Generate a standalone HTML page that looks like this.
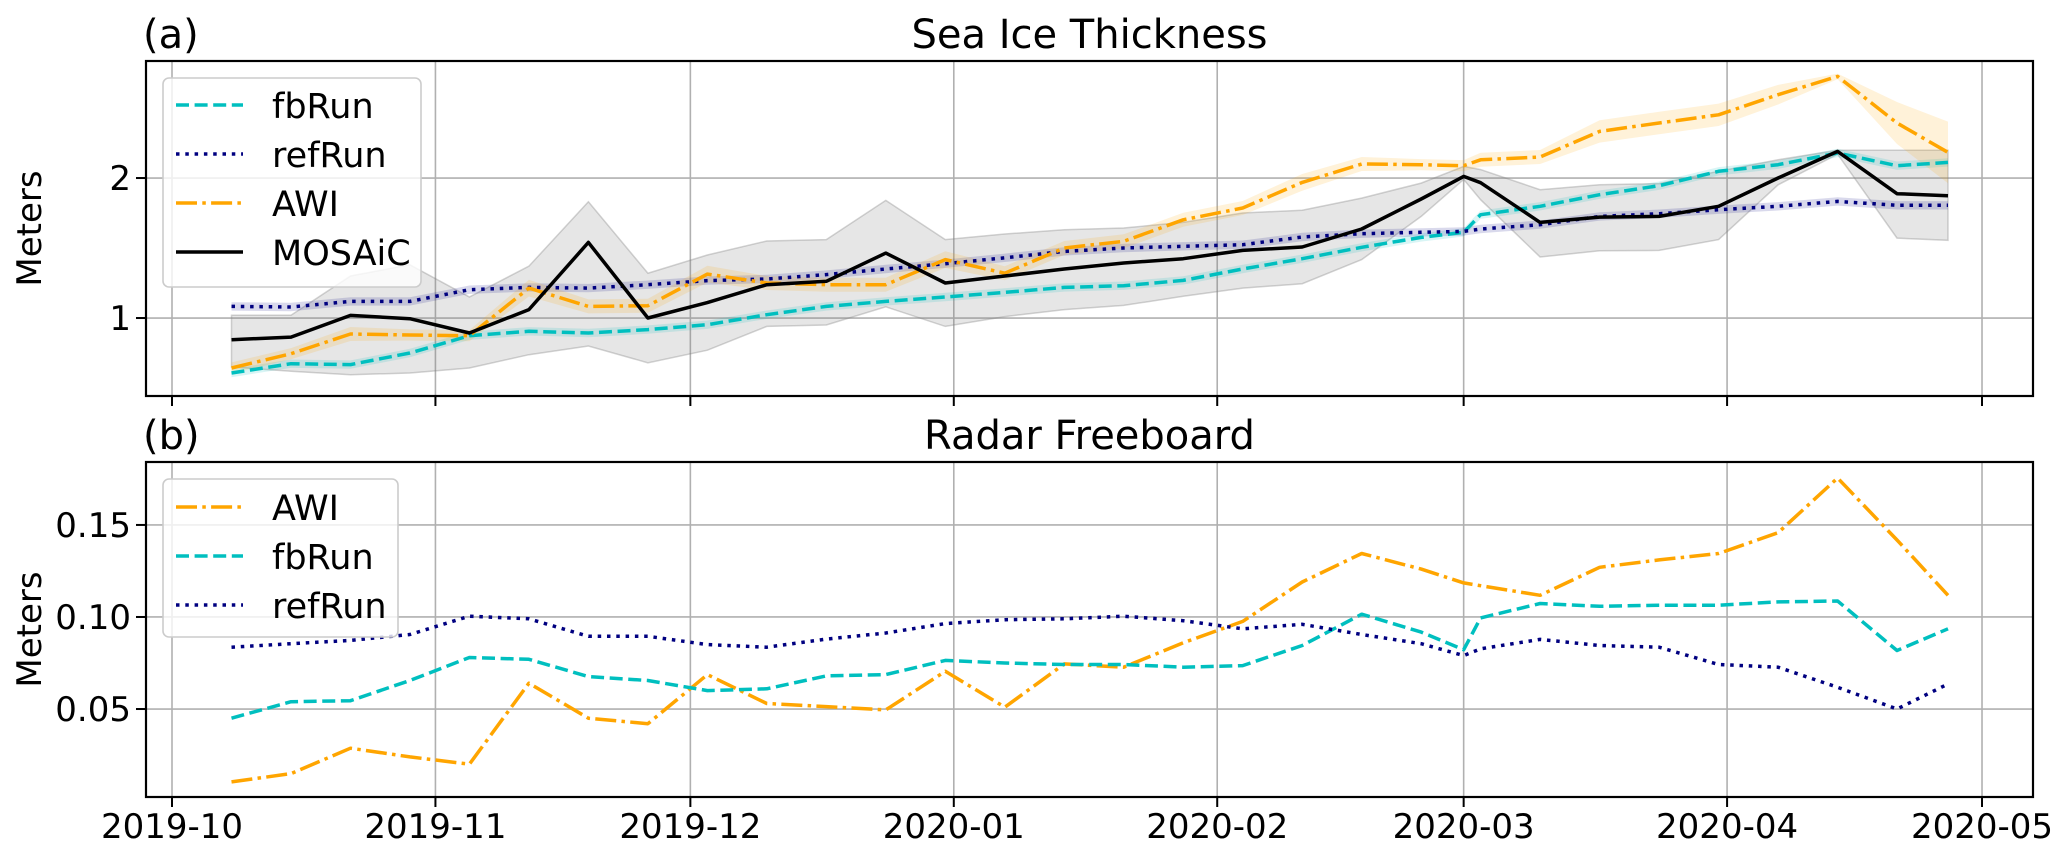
<!DOCTYPE html>
<html><head><meta charset="utf-8"><style>
html,body{margin:0;padding:0;background:#fff;}
svg{display:block;font-family:"DejaVu Sans","Liberation Sans",sans-serif;}
</style></head><body>
<svg id="fig" width="2067" height="856" viewBox="0 0 2067 856" xmlns="http://www.w3.org/2000/svg"></svg>
<script>
// ---- data ----
const days = [7,14,21,28,35,42,49,56,63,70,77,84,91,98,105,112,119,126,133,140,147,152,154,161,168,175,182,189,196,203,209];
const monthDays = [0,31,61,92,123,152,183,213];
const monthLabels = ["2019-10","2019-11","2019-12","2020-01","2020-02","2020-03","2020-04","2020-05"];
// Panel (a) sea ice thickness
const thkFb = [0.607,0.674,0.667,0.75,0.874,0.905,0.893,0.917,0.952,1.024,1.083,1.119,1.15,1.183,1.219,1.231,1.269,1.35,1.424,1.505,1.576,1.612,1.738,1.798,1.881,1.945,2.048,2.095,2.179,2.088,2.112];
const thkRef = [1.083,1.079,1.119,1.119,1.202,1.219,1.214,1.238,1.267,1.279,1.31,1.35,1.388,1.43,1.476,1.5,1.512,1.524,1.579,1.602,1.612,1.619,1.636,1.667,1.726,1.745,1.774,1.798,1.833,1.805,1.805];
const thkAwi = [0.643,0.745,0.886,0.879,0.874,1.214,1.083,1.088,1.314,1.25,1.238,1.238,1.417,1.32,1.5,1.548,1.702,1.786,1.969,2.10,2.095,2.088,2.13,2.15,2.333,2.393,2.452,2.595,2.726,2.393,2.183];
const thkAwiSpread = [0.04,0.04,0.05,0.04,0.04,0.06,0.05,0.05,0.06,0.05,0.05,0.05,0.06,0.05,0.05,0.05,0.05,0.05,0.06,0.05,0.04,0.04,0.05,0.05,0.08,0.08,0.08,0.07,0.02,0.15,0.22];
const thkMos = [0.845,0.864,1.019,0.995,0.893,1.06,1.54,1.0,1.11,1.238,1.262,1.464,1.25,1.30,1.35,1.393,1.424,1.483,1.507,1.636,1.85,2.012,1.967,1.683,1.721,1.726,1.798,2.0,2.19,1.888,1.874];
const thkMosUp = [1.02,1.02,1.30,1.38,1.15,1.37,1.83,1.32,1.45,1.55,1.56,1.84,1.56,1.60,1.63,1.643,1.683,1.75,1.77,1.857,1.964,2.083,2.06,1.917,1.952,1.96,2.048,2.13,2.198,2.198,2.198];
const thkMosLo = [0.65,0.62,0.595,0.607,0.643,0.738,0.80,0.68,0.77,0.94,0.95,1.08,0.94,1.01,1.06,1.09,1.155,1.214,1.245,1.417,1.726,1.99,1.845,1.436,1.48,1.483,1.56,1.952,2.17,1.571,1.555];
const thkModelSpread = [0.03,0.03,0.03,0.03,0.03,0.03,0.03,0.03,0.03,0.03,0.03,0.03,0.03,0.03,0.03,0.03,0.03,0.03,0.03,0.03,0.03,0.03,0.03,0.03,0.03,0.03,0.03,0.03,0.03,0.03,0.03];
const thkTicks = [1,2];
// Panel (b) radar freeboard
const fbAwi = [0.0104,0.0149,0.0287,0.024,0.020,0.064,0.045,0.042,0.0687,0.053,0.0513,0.0495,0.0705,0.051,0.0745,0.0727,0.086,0.0976,0.119,0.1345,0.126,0.1185,0.117,0.1118,0.127,0.131,0.1345,0.1458,0.1755,0.1418,0.1118];
const fbFb = [0.045,0.054,0.0545,0.0655,0.078,0.077,0.0676,0.0655,0.060,0.061,0.068,0.0687,0.0764,0.075,0.0742,0.0742,0.0727,0.0736,0.0845,0.1015,0.0918,0.0822,0.0995,0.1073,0.1058,0.1064,0.1064,0.1082,0.1087,0.0818,0.0936];
const fbRef = [0.0836,0.0855,0.0873,0.0905,0.1004,0.099,0.0895,0.0895,0.085,0.0836,0.088,0.0913,0.0964,0.0985,0.099,0.1004,0.098,0.0936,0.096,0.0905,0.0855,0.079,0.0827,0.0878,0.0845,0.0836,0.0742,0.0727,0.0618,0.050,0.0636];
const fbTicks = [0.05,0.10,0.15];
const fbTickLabels = ["0.05","0.10","0.15"];

// ---- layout ----
const NS="http://www.w3.org/2000/svg";
const svg=document.getElementById('fig');
const L=146,R=2033;
const dayMin=-3.06, dayMax=219.0;
const xS=d=>L+(d-dayMin)/(dayMax-dayMin)*(R-L);
function mk(tag,attrs,parent){const e=document.createElementNS(NS,tag);for(const k in attrs)e.setAttribute(k,attrs[k]);(parent||svg).appendChild(e);return e;}
function path(xs,ys){return xs.map((x,i)=>(i?'L':'M')+x.toFixed(1)+' '+ys[i].toFixed(1)).join(' ');}
function band(g,yS,lo,hi,fill,op,stroke){
  const xs=days.map(xS);
  const d=path(xs,hi.map(yS))+' '+xs.slice().reverse().map((x,i)=>'L'+x.toFixed(1)+' '+yS(lo[lo.length-1-i]).toFixed(1)).join(' ')+' Z';
  return mk('path',{d:d,fill:fill,'fill-opacity':op,stroke:stroke||'none','stroke-opacity':0.35,'stroke-width':1.5},g);
}
function line(g,yS,vals,color,dash){
  return mk('path',{d:path(days.map(xS),vals.map(yS)),fill:'none',stroke:color,'stroke-width':3.5,'stroke-dasharray':dash||'none','stroke-linejoin':'round'},g);
}
const DASH='13,5.6', DOT='3.5,5.8', DASHDOT='21,5.3,3.5,5.3';

function axes(name,T,B,yS,ticks){
  const g=mk('g',{});
  
  
  monthDays.forEach((d,i)=>{const gl=mk('line',{x1:xS(d),x2:xS(d),y1:T,y2:B,stroke:'#b0b0b0','stroke-width':1.6},g);
    });
  ticks.forEach(v=>{const gl=mk('line',{x1:L,x2:R,y1:yS(v),y2:yS(v),stroke:'#b0b0b0','stroke-width':1.6},g);
    });
  return g;
}
function frame(name,T,B,yS,ticks,labels,showX,title,tag,ylab){
  const g=mk('g',{});
  
  
  mk('rect',{x:L,y:T,width:R-L,height:B-T,fill:'none',stroke:'#000','stroke-width':2.2},g);
  monthDays.forEach((d,i)=>{
    mk('line',{x1:xS(d),x2:xS(d),y1:B,y2:B+10,stroke:'#000','stroke-width':2},g);
    if(showX){const t=mk('text',{x:xS(d),y:838,'text-anchor':'middle','font-size':34,fill:'#000'},g);t.textContent=monthLabels[i];
      }
  });
  ticks.forEach((v,i)=>{
    mk('line',{x1:L-10,x2:L,y1:yS(v),y2:yS(v),stroke:'#000','stroke-width':2},g);
    const t=mk('text',{x:L-15,y:yS(v)+12,'text-anchor':'end','font-size':34,fill:'#000'},g);t.textContent=labels[i];
    
  });
  const tt=mk('text',{x:(L+R)/2,y:T-13,'text-anchor':'middle','font-size':40,fill:'#000'},g);tt.textContent=title;
  
  const tg=mk('text',{x:143,y:T-13,'font-size':40,fill:'#000'},g);tg.textContent=tag;
  
  const cy=(T+B)/2;
  const yl=mk('text',{x:29,y:cy,'text-anchor':'middle','font-size':34,fill:'#000',transform:'rotate(-90 29 '+cy+') translate(0 12)'},g);yl.textContent=ylab;
  
}
function legend(x,y,w,h,entries,y0){
  const g=mk('g',{});
  
  
  mk('rect',{x:x,y:y,width:w,height:h,rx:6,fill:'#fff','fill-opacity':0.8,stroke:'#cccccc','stroke-width':1.6},g);
  entries.forEach((e,i)=>{
    const yy=y0+i*49;
    const eg=mk('g',{},g);
    
    
    mk('line',{x1:176,x2:243,y1:yy,y2:yy,stroke:e[1],'stroke-width':3.5,'stroke-dasharray':e[2]||'none'},eg);
    const t=mk('text',{x:272,y:yy+13,'font-size':35,fill:'#000'},eg);t.textContent=e[0];
  });
}

// Panel (a)
const aT=61,aB=396;
const yA=v=>aT+(2.836-v)/(2.836-0.443)*(aB-aT);
const ga=axes('thickness-panel',aT,aB,yA,thkTicks);
const up=(a,s)=>a.map((v,i)=>v+s[i]), dn=(a,s)=>a.map((v,i)=>v-s[i]);
let b;
b=band(ga,yA,thkMosLo,thkMosUp,'#808080',0.2,'#808080');
b=band(ga,yA,dn(thkFb,thkModelSpread),up(thkFb,thkModelSpread),'#00bfbf',0.15);
b=band(ga,yA,dn(thkRef,thkModelSpread),up(thkRef,thkModelSpread),'#000080',0.15);
b=band(ga,yA,dn(thkAwi,thkAwiSpread),up(thkAwi,thkAwiSpread),'#ffa500',0.15);
let l;
l=line(ga,yA,thkFb,'#00bfbf',DASH);
l=line(ga,yA,thkRef,'#000080',DOT);
l=line(ga,yA,thkAwi,'#ffa500',DASHDOT);
l=line(ga,yA,thkMos,'#000000');
frame('thickness',aT,aB,yA,thkTicks,["1","2"],false,'Sea Ice Thickness','(a)','Meters');
legend(163,78,258,209,[['fbRun','#00bfbf',DASH],['refRun','#000080',DOT],['AWI','#ffa500',DASHDOT],['MOSAiC','#000']],105);

// Panel (b)
const bT=462,bB=797;
const yB=v=>bT+(0.1842-v)/(0.1842-0.0022)*(bB-bT);
const gb=axes('freeboard-panel',bT,bB,yB,fbTicks);
l=line(gb,yB,fbAwi,'#ffa500',DASHDOT);
l=line(gb,yB,fbFb,'#00bfbf',DASH);
l=line(gb,yB,fbRef,'#000080',DOT);
frame('freeboard',bT,bB,yB,fbTicks,fbTickLabels,true,'Radar Freeboard','(b)','Meters');
legend(163,479,235,158,[['AWI','#ffa500',DASHDOT],['fbRun','#00bfbf',DASH],['refRun','#000080',DOT]],507);
</script>
</body></html>
